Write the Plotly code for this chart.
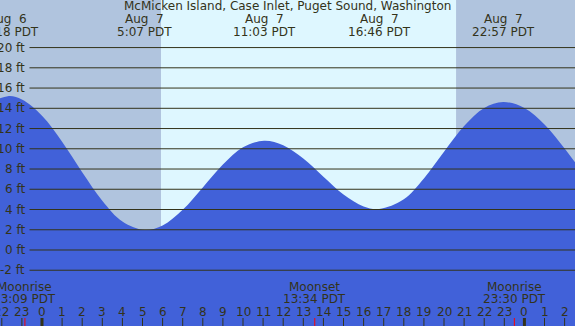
import plotly.graph_objects as go

# ---- data (hours relative to Aug 7 00:00 PDT) ----
tide_hours = [-3, -1.7, -1, 0, 1, 2, 3, 4, 5.12, 6, 7, 8, 9, 10, 11.05, 12, 13, 14,
              15, 16, 16.77, 18, 19, 20, 21, 22, 22.95, 24, 25, 26, 27]
tide_ft = [14.06, 15.2, 14.86, 13.27, 10.70, 7.69, 4.87, 2.81, 1.97, 2.42, 3.97, 6.18,
           8.44, 10.14, 10.8, 10.35, 9.03, 7.23, 5.48, 4.30, 4.05, 5.01, 7.07, 9.70,
           12.24, 14.04, 14.62, 14.03, 12.40, 10.03, 7.32]

event_hours = [-1.7, 5.12, 11.05, 16.77, 22.95]
event_dates = ["Aug  6", "Aug  7", "Aug  7", "Aug  7", "Aug  7"]
event_times = ["22:18 PDT", "5:07 PDT", "11:03 PDT", "16:46 PDT", "22:57 PDT"]

moon_hours = [-0.85, 13.57, 23.5]
moon_names = ["Moonrise", "Moonset", "Moonrise"]
moon_times = ["23:09 PDT", "13:34 PDT", "23:30 PDT"]

sunrise_h = 5.92
sunset_h = 20.6

hour_ticks = [-2, -1, 0, 1, 2, 3, 4, 5, 6, 7, 8, 9, 10, 11, 12, 13, 14, 15, 16, 17,
              18, 19, 20, 21, 22, 23, 24, 25, 26]
hour_labels = ["22", "23", "0", "1", "2", "3", "4", "5", "6", "7", "8", "9", "10", "11",
               "12", "13", "14", "15", "16", "17", "18", "19", "20", "21", "22", "23",
               "0", "1", "2"]
midnights = [0, 24]

ft_ticks = [20, 18, 16, 14, 12, 10, 8, 6, 4, 2, 0, -2]
ft_labels = ["20 ft", "18 ft", "16 ft", "14 ft", "12 ft", "10 ft", "8 ft", "6 ft",
             "4 ft", "2 ft", "0 ft", "-2 ft"]

title = "McMicken Island, Case Inlet, Puget Sound, Washington"

# ---- styling ----
W, H = 575, 326
X_RANGE = [-2.0896, 26.517]
Y_RANGE = [-7.51, 24.70]
NIGHT = "#b0c4de"
DAY = "#def7ff"
BLUE = "#4161d9"
INK = "#33331a"
FONT = dict(family="DejaVu Sans", size=12, color=INK)


def py(pix):
    return 1 - pix / H


fig = go.Figure()
fig.add_trace(go.Scatter(x=[X_RANGE[0] - 1, X_RANGE[1] + 1], y=[-10, -10],
                         mode="lines", line=dict(width=0), hoverinfo="skip",
                         showlegend=False))
fig.add_trace(go.Scatter(x=tide_hours, y=tide_ft, mode="lines",
                         line=dict(width=0, shape="spline", color=BLUE),
                         fill="tonexty", fillcolor=BLUE, hoverinfo="skip",
                         showlegend=False))

shapes = []
# night backgrounds
shapes.append(dict(type="rect", xref="x", yref="paper", x0=X_RANGE[0] - 1, x1=sunrise_h,
                   y0=0, y1=1, fillcolor=NIGHT, line=dict(width=0), layer="below"))
shapes.append(dict(type="rect", xref="x", yref="paper", x0=sunset_h, x1=X_RANGE[1] + 1,
                   y0=0, y1=1, fillcolor=NIGHT, line=dict(width=0), layer="below"))
# grid lines
for v in ft_ticks:
    shapes.append(dict(type="line", xref="paper", yref="y", x0=29.5 / W, x1=1,
                       y0=v, y1=v, line=dict(color=INK, width=1), layer="above"))
# hour ticks
for h in hour_ticks:
    shapes.append(dict(type="line", xref="x", yref="paper", x0=h, x1=h,
                       y0=0, y1=8 / H,
                       line=dict(color=INK, width=3 if h in midnights else 1),
                       layer="above"))
for h in moon_hours:
    shapes.append(dict(type="line", xref="x", yref="paper", x0=h, x1=h,
                       y0=0, y1=8 / H, line=dict(color="#ff0000", width=1),
                       layer="above"))

ann = []
ann.append(dict(text=title, xref="paper", yref="paper", x=0.5, y=py(6.5),
                xanchor="center", yanchor="middle", showarrow=False, font=FONT))
for h, d, t in zip(event_hours, event_dates, event_times):
    ann.append(dict(text=d, xref="x", yref="paper", x=h, y=py(19.5),
                    xanchor="center", yanchor="middle", showarrow=False, font=FONT))
    ann.append(dict(text=t, xref="x", yref="paper", x=h, y=py(31.5),
                    xanchor="center", yanchor="middle", showarrow=False, font=FONT))
for h, n, t in zip(moon_hours, moon_names, moon_times):
    ann.append(dict(text=n, xref="x", yref="paper", x=h, y=py(286.5),
                    xanchor="center", yanchor="middle", showarrow=False, font=FONT))
    ann.append(dict(text=t, xref="x", yref="paper", x=h, y=py(298.5),
                    xanchor="center", yanchor="middle", showarrow=False, font=FONT))
for h, lab in zip(hour_ticks, hour_labels):
    ann.append(dict(text=lab, xref="x", yref="paper", x=h, y=py(311.5),
                    xanchor="center", yanchor="middle", showarrow=False, font=FONT))
for v, lab in zip(ft_ticks, ft_labels):
    ann.append(dict(text=lab, xref="paper", yref="y", x=27 / W, y=v,
                    xanchor="right", yanchor="middle", showarrow=False, font=FONT))

fig.update_layout(
    width=W, height=H, margin=dict(l=0, r=0, t=0, b=0),
    plot_bgcolor=DAY, paper_bgcolor=DAY,
    xaxis=dict(range=X_RANGE, visible=False, fixedrange=True),
    yaxis=dict(range=Y_RANGE, visible=False, fixedrange=True),
    shapes=shapes, annotations=ann, showlegend=False,
)

fig.write_html(
    "out.html",
    config={"displayModeBar": False},
    post_script="document.body.style.margin='0';document.body.style.overflow='hidden';",
)
